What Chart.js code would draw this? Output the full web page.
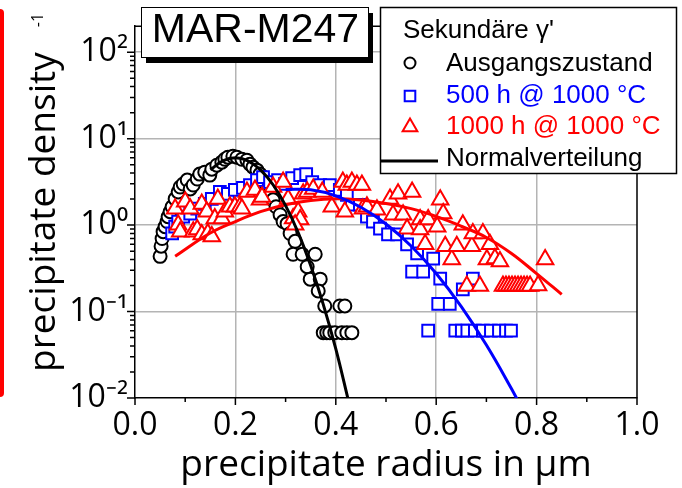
<!DOCTYPE html>
<html>
<head>
<meta charset="utf-8">
<script src="https://cdn.jsdelivr.net/npm/chart.js@4.4.1/dist/chart.umd.min.js"></script>
<style>
  html, body { margin: 0; padding: 0; background: #fff; }
  #wrap { position: relative; width: 682px; height: 488px; overflow: hidden; }
  #redbar { position: absolute; left: -5px; top: 9px; width: 9px; height: 388px; background: #f00; border-radius: 4px; }
</style>
</head>
<body>
<div id="wrap">
  <canvas id="chart" width="682" height="488"></canvas>
  <div id="redbar"></div>
</div>
<script>
// Ausgangszustand (black circles)
const circX = [0.050, 0.052, 0.054, 0.056, 0.060, 0.064, 0.066, 0.070, 0.074, 0.080, 0.086, 0.090, 0.096, 0.104,
  0.110, 0.116, 0.124, 0.129, 0.139, 0.149, 0.153, 0.163, 0.173, 0.179, 0.185, 0.195, 0.203, 0.213, 0.223,
  0.229, 0.235, 0.243, 0.249, 0.255, 0.261, 0.269, 0.275, 0.281, 0.289, 0.295, 0.303, 0.309, 0.319, 0.315,
  0.333, 0.359, 0.343, 0.349, 0.369, 0.365, 0.378, 0.408, 0.418, 0.375, 0.382, 0.388, 0.398, 0.412, 0.422, 0.432];
const circY = [0.435, 0.57, 0.70, 0.84, 0.96, 1.10, 1.25, 1.43, 1.63, 2.01, 2.42, 2.76, 2.99, 3.32,
  2.62, 2.91, 3.41, 3.89, 4.10, 3.79, 4.44, 4.93, 5.35, 5.78, 6.10, 6.26, 6.10, 5.78, 5.63,
  5.07, 4.68, 4.32, 3.89, 3.60, 2.99, 2.42, 1.96, 1.63, 1.32, 1.10, 1.04, 0.80, 0.65, 0.46,
  0.46, 0.46, 0.33, 0.237, 0.237, 0.173, 0.116, 0.116, 0.116, 0.057, 0.057, 0.057, 0.057, 0.057, 0.057, 0.057];

// 500 h @ 1000 °C (blue squares)
const sqX = [0.074, 0.080, 0.086, 0.096, 0.110, 0.124, 0.139, 0.153, 0.169, 0.185, 0.199, 0.215, 0.229, 0.243,
  0.255, 0.269, 0.285, 0.299, 0.313, 0.329, 0.341, 0.353, 0.369, 0.388, 0.408, 0.422, 0.432, 0.448, 0.462,
  0.474, 0.488, 0.504, 0.522, 0.542, 0.562, 0.552, 0.574, 0.594, 0.608, 0.653, 0.673, 0.604, 0.627,
  0.584, 0.638, 0.651, 0.662, 0.677, 0.693, 0.709, 0.725, 0.739, 0.749];
const sqY = [0.80, 0.96, 1.10, 1.25, 1.36, 1.55, 1.76, 2.01, 2.42, 2.30, 2.55, 2.69, 2.91, 3.32,
  3.60, 3.15, 3.32, 2.99, 3.50, 3.79, 3.89, 3.15, 2.91, 2.91, 2.55, 2.24, 1.72, 1.72, 1.25,
  1.10, 0.91, 0.78, 0.78, 0.60, 0.47, 0.29, 0.29, 0.41, 0.24, 0.18, 0.24, 0.123, 0.123,
  0.06, 0.06, 0.06, 0.06, 0.06, 0.06, 0.06, 0.06, 0.06, 0.06];

// 1000 h @ 1000 °C (red triangles)
const triX = [0.080, 0.086, 0.090, 0.100, 0.110, 0.116, 0.124, 0.133, 0.133, 0.143, 0.145, 0.153, 0.165, 0.159,
  0.173, 0.179, 0.189, 0.199, 0.209, 0.213, 0.223, 0.239, 0.249, 0.253, 0.275, 0.295, 0.305, 0.315, 0.325,
  0.329, 0.319, 0.335, 0.343, 0.355, 0.373, 0.392, 0.414, 0.422, 0.418, 0.432, 0.442, 0.452, 0.454, 0.462,
  0.482, 0.508, 0.514, 0.524, 0.534, 0.542, 0.552, 0.568, 0.568, 0.578, 0.584, 0.602, 0.608, 0.614, 0.618,
  0.631, 0.641, 0.653, 0.671, 0.673, 0.693, 0.707, 0.701, 0.717, 0.727, 0.817, 0.661, 0.687,
  0.733, 0.739, 0.745, 0.751, 0.757, 0.763, 0.769, 0.775, 0.781, 0.787, 0.803];
const triY = [1.55, 1.01, 0.84, 1.86, 1.55, 0.84, 0.89, 1.76, 0.78, 1.43, 0.80, 0.74, 2.01, 1.19,
  1.19, 1.43, 1.63, 1.63, 1.63, 1.55, 2.42, 2.55, 1.96, 2.12, 2.76, 3.15, 2.01, 1.19, 1.43,
  1.16, 1.01, 2.30, 2.42, 2.62, 2.42, 1.63, 3.15, 2.91, 1.43, 3.15, 2.91, 2.91, 1.55, 1.63,
  1.51, 2.01, 1.32, 2.30, 1.32, 0.91, 2.42, 1.16, 0.89, 0.60, 1.16, 0.96, 1.96, 1.36, 0.57,
  0.40, 0.57, 1.01, 0.57, 0.80, 0.80, 0.60, 0.40, 0.41, 0.38, 0.40, 0.197, 0.197,
  0.197, 0.197, 0.197, 0.197, 0.197, 0.197, 0.197, 0.197, 0.197, 0.197, 0.20];

// Normalverteilung
const fitBlackX = [0.15, 0.175, 0.20, 0.225, 0.25, 0.275, 0.30, 0.325, 0.35, 0.375, 0.40, 0.425];
const fitBlackY = [4.36, 5.54, 6.0, 5.54, 4.36, 2.93, 1.68, 0.82, 0.34, 0.121, 0.037, 0.0094];
const fitBlueX = [0.30, 0.35, 0.40, 0.45, 0.50, 0.55, 0.60, 0.65, 0.70, 0.75, 0.77];
const fitBlueY = [2.59, 2.56, 2.18, 1.61, 1.03, 0.573, 0.275, 0.114, 0.041, 0.0128, 0.0077];
const fitRedX = [0.08, 0.15, 0.20, 0.25, 0.30, 0.35, 0.40, 0.45, 0.50, 0.55, 0.60, 0.65, 0.70, 0.75, 0.80, 0.85];
const fitRedY = [0.436, 0.81, 1.10, 1.43, 1.72, 1.93, 2.02, 1.95, 1.78, 1.55, 1.26, 0.97, 0.72, 0.47, 0.275, 0.158];

const yTickValues = [];
for (let e = -2; e <= 1; e++) {
  for (let m = 1; m <= 9; m++) yTickValues.push(Number((m * Math.pow(10, e)).toPrecision(3)));
}
yTickValues.push(100);
const yLabels = {'-2': '10⁻²', '-1': '10⁻¹', '0': '10⁰', '1': '10¹', '2': '10²'};

const legendTitle = "Sekundäre γ'";
const seriesNames = ['Ausgangszustand', '500 h @ 1000 °C', '1000 h @ 1000 °C', 'Normalverteilung'];
const sampleName = 'MAR-M247';

const BLACK = '#000000';
const BLUE = '#0000ff';
const RED = '#ff0000';
const GRID = '#b4b4b4';

function pts(xs, ys) {
  return xs.map((x, i) => ({x: x, y: ys[i]}));
}

function isDecade(v) {
  const l = Math.log10(v);
  return Math.abs(l - Math.round(l)) < 1e-6;
}

function drawSymbol(ctx, style, x, y, r) {
  ctx.beginPath();
  if (style === 'circle') {
    ctx.arc(x, y, r, 0, Math.PI * 2);
  } else if (style === 'rect') {
    const s = r * Math.SQRT1_2;
    ctx.rect(x - s, y - s, 2 * s, 2 * s);
  } else {
    ctx.moveTo(x, y - r);
    ctx.lineTo(x + r * Math.sin(Math.PI * 2 / 3), y + r / 2);
    ctx.lineTo(x - r * Math.sin(Math.PI * 2 / 3), y + r / 2);
    ctx.closePath();
  }
  ctx.fill();
  ctx.stroke();
}

const decorations = {
  id: 'decorations',
  afterDraw(chart) {
    const ctx = chart.ctx;
    const a = chart.chartArea;
    const xs = chart.scales.x;
    const ys = chart.scales.y;
    ctx.save();

    // frame top / right
    ctx.strokeStyle = BLACK;
    ctx.lineWidth = 1.5;
    ctx.beginPath();
    ctx.moveTo(a.left, a.top);
    ctx.lineTo(a.right, a.top);
    ctx.lineTo(a.right, a.bottom);
    ctx.stroke();

    // outward tick marks
    ctx.beginPath();
    xs.ticks.forEach(t => {
      const len = Math.round(t.value * 10) % 2 === 0 ? 7 : 4;
      const px = xs.getPixelForValue(t.value);
      ctx.moveTo(px, a.bottom);
      ctx.lineTo(px, a.bottom + len);
    });
    ys.ticks.forEach(t => {
      const len = isDecade(t.value) ? 8 : 5;
      const py = ys.getPixelForValue(t.value);
      ctx.moveTo(a.left, py);
      ctx.lineTo(a.left - len, py);
    });
    ctx.stroke();

    // "-1" superscript of the y title
    ctx.save();
    ctx.translate(38, 20);
    ctx.rotate(-Math.PI / 2);
    ctx.fillStyle = BLACK;
    ctx.font = '16px "Open Sans"';
    ctx.textAlign = 'center';
    ctx.textBaseline = 'middle';
    ctx.fillText('-1', 0, 0);
    ctx.restore();

    // sample label box with shadow
    ctx.fillStyle = BLACK;
    ctx.fillRect(146, 13, 227, 50);
    ctx.fillStyle = '#fff';
    ctx.fillRect(141, 7, 227, 50);
    ctx.lineWidth = 1;
    ctx.strokeRect(141.5, 7.5, 227, 50);
    ctx.fillStyle = BLACK;
    ctx.font = '41px "Liberation Sans"';
    ctx.textAlign = 'center';
    ctx.textBaseline = 'alphabetic';
    ctx.fillText(sampleName, 255.5, 42);

    // legend
    ctx.fillStyle = '#fff';
    ctx.fillRect(380, 7, 297, 167);
    ctx.strokeStyle = BLACK;
    ctx.lineWidth = 1.5;
    ctx.strokeRect(380.5, 7.5, 296, 166);
    ctx.font = '26px "Liberation Sans"';
    ctx.textAlign = 'left';
    ctx.fillStyle = BLACK;
    ctx.fillText(legendTitle, 403, 38);

    const rows = [
      {color: BLACK, style: 'circle', r: 5.5, y: 63, base: 71},
      {color: BLUE, style: 'rect', r: 7.5, y: 96, base: 103},
      {color: RED, style: 'triangle', r: 8.5, y: 127, base: 134}
    ];
    rows.forEach((row, i) => {
      ctx.fillStyle = '#fff';
      ctx.strokeStyle = row.color;
      ctx.lineWidth = 2;
      drawSymbol(ctx, row.style, 410, row.y, row.r);
      ctx.fillStyle = row.color;
      ctx.fillText(seriesNames[i], 446, row.base);
    });
    ctx.strokeStyle = BLACK;
    ctx.lineWidth = 3;
    ctx.beginPath();
    ctx.moveTo(381, 161);
    ctx.lineTo(438, 161);
    ctx.stroke();
    ctx.fillStyle = BLACK;
    ctx.fillText(seriesNames[3], 446, 166);

    ctx.restore();
  }
};

Chart.defaults.font.family = '"Open Sans", sans-serif';
Chart.defaults.color = '#000';

const markerBase = {showLine: false, pointBackgroundColor: '#fff', pointBorderWidth: 2, pointHoverRadius: 0};
const curveBase = {showLine: true, pointRadius: 0, borderWidth: 3, tension: 0.4, fill: false};

const chart = new Chart(document.getElementById('chart'), {
  type: 'scatter',
  data: {
    datasets: [
      Object.assign({label: 'fit Ausgangszustand', data: pts(fitBlackX, fitBlackY), borderColor: BLACK}, curveBase),
      Object.assign({label: 'fit 500 h', data: pts(fitBlueX, fitBlueY), borderColor: BLUE}, curveBase),
      Object.assign({label: 'fit 1000 h', data: pts(fitRedX, fitRedY), borderColor: RED}, curveBase),
      Object.assign({label: seriesNames[2], data: pts(triX, triY), pointStyle: 'triangle', pointRadius: 9.5,
        pointBorderColor: RED, borderColor: RED}, markerBase),
      Object.assign({label: seriesNames[1], data: pts(sqX, sqY), pointStyle: 'rect', pointRadius: 8.3,
        pointBorderColor: BLUE, borderColor: BLUE}, markerBase),
      Object.assign({label: seriesNames[0], data: pts(circX, circY), pointStyle: 'circle', pointRadius: 6.5,
        pointBorderColor: BLACK, borderColor: BLACK}, markerBase)
    ]
  },
  options: {
    responsive: false,
    devicePixelRatio: 1,
    animation: false,
    events: [],
    layout: {padding: {left: 0, right: 45, top: 24, bottom: 0}},
    plugins: {legend: {display: false}, tooltip: {enabled: false}},
    scales: {
      x: {
        type: 'linear',
        min: 0,
        max: 1,
        afterFit: (s) => { s.height = 90; },
        border: {color: BLACK, width: 1.5},
        grid: {
          drawTicks: false,
          lineWidth: 1.5,
          color: (c) => {
            const k = c.tick ? Math.round(c.tick.value * 10) : 0;
            return (k > 0 && k < 10 && k % 2 === 0) ? GRID : 'rgba(0,0,0,0)';
          }
        },
        ticks: {
          stepSize: 0.1,
          autoSkip: false,
          maxRotation: 0,
          padding: 9,
          font: {size: 32},
          callback: (v) => Math.round(v * 10) % 2 === 0 ? Number(v).toFixed(1) : ''
        },
        title: {display: true, text: 'precipitate radius in µm', font: {size: 37, lineHeight: 1},
          padding: {top: 0, bottom: 4.5}}
      },
      y: {
        type: 'logarithmic',
        min: 0.01,
        max: 200,
        afterFit: (s) => { s.width = 135; },
        afterBuildTicks: (s) => { s.ticks = yTickValues.map(v => ({value: v})); },
        border: {color: BLACK, width: 1.5},
        grid: {
          drawTicks: false,
          lineWidth: 1.5,
          color: (c) => (c.tick && isDecade(c.tick.value) && c.tick.value > 0.011) ? GRID : 'rgba(0,0,0,0)'
        },
        ticks: {
          autoSkip: false,
          padding: 7,
          font: {size: 32},
          callback: (v) => isDecade(v) ? yLabels[String(Math.round(Math.log10(v)))] : ''
        },
        title: {display: true, text: 'precipitate density', font: {size: 37, lineHeight: 1},
          padding: {top: 25.5, bottom: 0}}
      }
    }
  },
  plugins: [decorations]
});
</script>
</body>
</html>
